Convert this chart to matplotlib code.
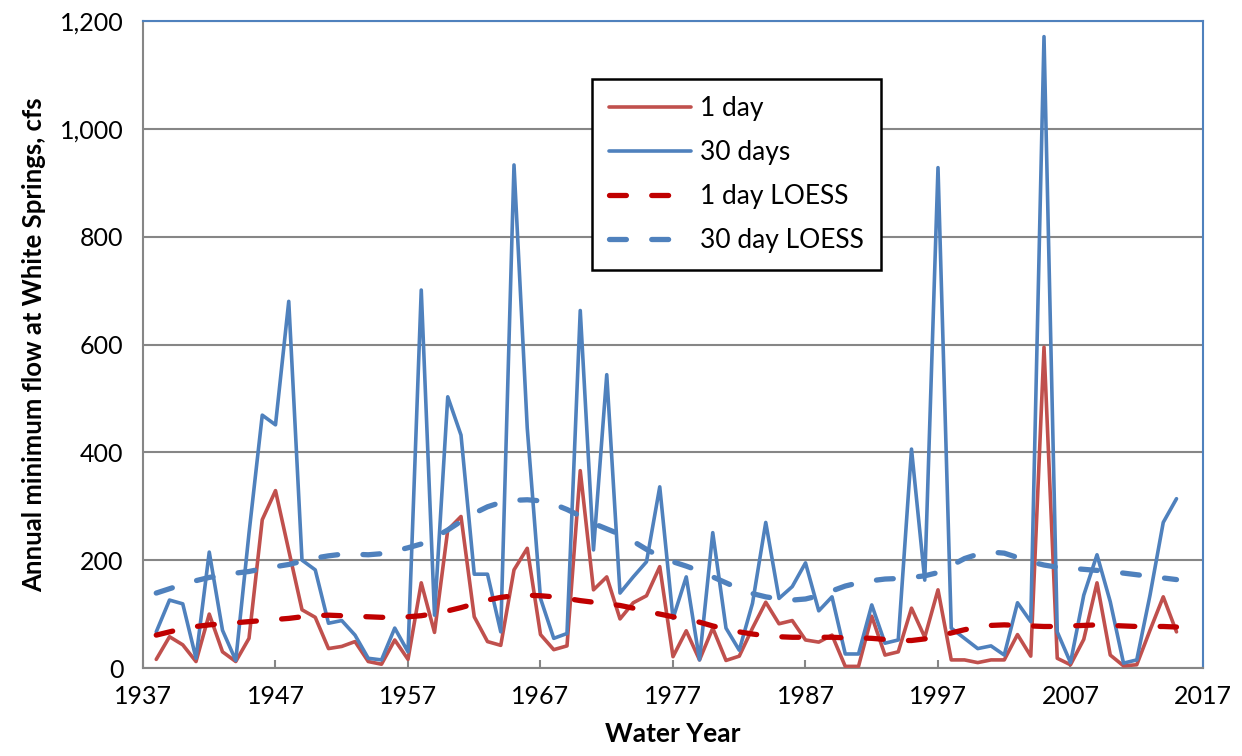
import matplotlib
matplotlib.use("Agg")
import matplotlib.pyplot as plt
from matplotlib.ticker import FuncFormatter, MultipleLocator

years = list(range(1938, 2016))

one_day = [16, 58, 43, 12, 100, 30, 12, 55, 275, 329,
           218, 108, 94, 36, 40, 49, 12, 7, 52, 16,
           158, 66, 256, 281, 95, 49, 42, 182, 222, 62,
           34, 41, 366, 145, 169, 91, 121, 134, 188, 21,
           69, 15, 74, 14, 22, 74, 122, 82, 88, 52,
           48, 61, 3, 3, 96, 24, 30, 111, 57, 145,
           15, 15, 10, 15, 15, 62, 22, 595, 18, 6,
           53, 158, 24, 4, 6, 70, 132, 67]

thirty_days = [67, 126, 119, 18, 215, 70, 14, 250, 469, 451,
               680, 200, 182, 83, 88, 61, 18, 15, 74, 30,
               701, 98, 503, 432, 174, 174, 67, 933, 445, 129,
               55, 64, 663, 219, 544, 139, 169, 197, 336, 92,
               169, 15, 251, 74, 33, 120, 270, 129, 151, 195,
               106, 132, 26, 26, 117, 46, 52, 406, 163, 928,
               74, 55, 36, 41, 24, 121, 86, 1171, 67, 10,
               135, 210, 123, 9, 15, 135, 270, 314]

one_day_loess = [61, 67, 73, 77, 80, 82, 84, 86, 88, 90,
                 92, 95, 97, 98, 97, 96, 95, 94, 94, 95,
                 97, 101, 106, 112, 119, 126, 131, 134, 135, 134,
                 132, 129, 125, 122, 119, 116, 111, 105, 100, 95,
                 90, 85, 78, 72, 67, 63, 60, 58, 57, 57,
                 57, 57, 56, 56, 55, 53, 51, 51, 54, 59,
                 65, 71, 76, 79, 80, 79, 78, 77, 77, 78,
                 79, 80, 79, 78, 77, 77, 77, 76]

thirty_day_loess = [139, 147, 155, 162, 168, 172, 176, 179, 184, 188,
                    192, 198, 204, 208, 211, 211, 210, 212, 217, 223,
                    230, 242, 256, 272, 287, 299, 307, 311, 312, 310,
                    304, 294, 282, 268, 258, 248, 235, 220, 207, 197,
                    189, 180, 169, 158, 147, 138, 132, 128, 126, 128,
                    134, 143, 152, 158, 162, 165, 166, 168, 171, 177,
                    190, 203, 211, 215, 213, 205, 197, 191, 187, 185,
                    183, 181, 179, 176, 173, 170, 167, 164]

x_ticks = [1937, 1947, 1957, 1967, 1977, 1987, 1997, 2007, 2017]

plt.rcParams['font.family'] = ['Lato', 'DejaVu Sans']

fig = plt.figure(figsize=(12.42, 7.56), dpi=100)
ax = fig.add_axes([143/1242, 1-668/756, (1203-143)/1242, (668-21)/756])

red = '#C0504D'
blue = '#4F81BD'
dred = '#C00000'

ax.plot(years, one_day, color=red, lw=2.6, label='1 day', solid_joinstyle='round',
        solid_capstyle='round', zorder=3)
ax.plot(years, thirty_days, color=blue, lw=2.6, label='30 days', solid_joinstyle='round',
        solid_capstyle='round', zorder=3)
ax.plot(years, one_day_loess, color=dred, lw=3.8, dashes=(3.2, 4.8), dash_capstyle='round',
        label='1 day LOESS', zorder=4)
ax.plot(years, thirty_day_loess, color=blue, lw=3.8, dashes=(3.2, 4.8), dash_capstyle='round',
        label='30 day LOESS', zorder=4)

ax.set_xlim(1937, 2017)
ax.set_ylim(0, 1200)
ax.set_xticks(x_ticks)
ax.yaxis.set_major_locator(MultipleLocator(200))
ax.yaxis.set_major_formatter(FuncFormatter(lambda v, p: f'{int(v):,}'))
ax.grid(axis='y', color='#868686', lw=1.5, zorder=1)
ax.set_axisbelow(True)

for s in ['left', 'bottom']:
    ax.spines[s].set_color('#868686')
    ax.spines[s].set_linewidth(1.5)
for s in ['top', 'right']:
    ax.spines[s].set_color(blue)
    ax.spines[s].set_linewidth(1.5)

ax.tick_params(axis='x', direction='in', length=6, color='#868686', width=1.5,
               labelsize=18, pad=12)
ax.tick_params(axis='y', direction='in', length=0, labelsize=18, pad=14)

ax.set_xlabel('Water Year', fontsize=19, fontweight='bold', labelpad=10)
ax.set_ylabel('Annual minimum flow at White Springs, cfs', fontsize=18.5, fontweight='bold',
              labelpad=10)

leg = ax.legend(loc='upper left', bbox_to_anchor=((592-143)/1060, (668-79)/647),
                borderaxespad=0, fontsize=19, frameon=True, fancybox=False,
                handlelength=3.1, handletextpad=0.35, labelspacing=0.72,
                borderpad=0.65)
leg.get_frame().set_edgecolor('black')
leg.get_frame().set_linewidth(1.8)
leg.get_frame().set_alpha(1)

fig.savefig('out.png', dpi=100)
